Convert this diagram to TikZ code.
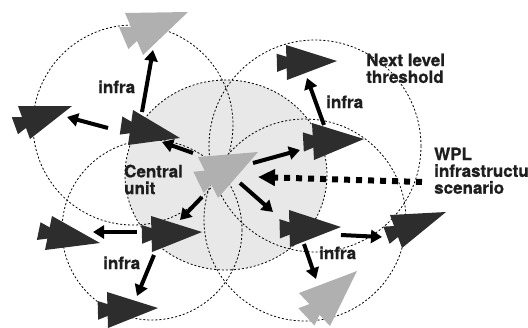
\documentclass[tikz,border=0pt]{standalone}
\usepackage{fontspec}
\newfontfamily\captionfont{texgyreheros-bold}[Extension=.otf, FakeBold=0.8]
\usetikzlibrary{calc,arrows.meta}

\definecolor{planedark}{HTML}{2D2D2D}
\definecolor{planegray}{HTML}{B0B0B0}
\definecolor{cellfill}{HTML}{E8E8E8}
\definecolor{labelink}{HTML}{1E1E1E}

% A relay symbol: a triangle with a smaller copy behind it (notched tail).
% #1 name, #2 tip, #3 and #4 back corners, #5 fill colour
\newcommand{\relay}[5]{%
  \coordinate (#1-tip) at #2;
  \coordinate (#1-a) at #3;
  \coordinate (#1-b) at #4;
  \coordinate (#1-m) at ($(#1-a)!0.5!(#1-b)$);
  \coordinate (#1-t2) at ($(#1-tip)!0.67!(#1-m)$);
  \fill[#5] (#1-tip) -- (#1-a) -- (#1-b) -- cycle;
  \fill[#5] (#1-t2) -- ($(#1-t2)+0.52*(#1-a)-0.52*(#1-tip)$)
             -- ($(#1-t2)+0.52*(#1-b)-0.52*(#1-tip)$) -- cycle;
  \coordinate (#1) at ($(#1-m)!0.4!(#1-tip)$);
}

\tikzset{
  cellrange/.style={draw=black, line width=0.8pt, dash pattern=on 2pt off 2pt},
  link/.style={draw=black, line width=4pt, -{Triangle[length=11pt,width=13pt]}},
  wpl/.style={draw=black, line width=6pt, dash pattern=on 6pt off 6pt,
    -{Triangle[length=17pt,width=16pt]}},
  caption/.style={inner sep=0pt, text=labelink, align=left,
    font=\captionfont\fontsize{17}{16.8}\selectfont},
}

\begin{document}
\begin{tikzpicture}[x=1pt,y=-1pt]
\useasboundingbox (0,0) rectangle (528,327);
\clip (0,0) rectangle (528,327);

% coverage ranges
\fill[cellfill] (226,175) ellipse [x radius=101, y radius=95];
\draw[cellrange] (226,175) ellipse [x radius=101, y radius=95];
\draw[cellrange] (133,125) circle [radius=100];
\draw[cellrange] (315,146) circle [radius=106];
\draw[cellrange] (152,230) circle [radius=90];
\draw[cellrange] (305,220) circle [radius=101];

% relays
\relay{top}{(188,12)}{(125,13)}{(143,55)}{planegray}
\relay{tlin}{(180,138)}{(133,110)}{(128,145)}{planedark}
\relay{tlout}{(72,106)}{(18,106)}{(30,139)}{planedark}
\relay{cu}{(258,152)}{(198,157)}{(218,198)}{planegray}
\relay{next}{(337,61)}{(286,45)}{(287,80)}{planedark}
\relay{trin}{(364,139)}{(312,123)}{(314,160)}{planedark}
\relay{blin}{(202,232)}{(151,216)}{(152,252)}{planedark}
\relay{blout}{(100,243)}{(52,216)}{(45,250)}{planedark}
\relay{bldown}{(158,308)}{(107,292)}{(108,328)}{planedark}
\relay{brin}{(341,227)}{(289,210)}{(290,247)}{planedark}
\relay{brout}{(446,212)}{(390,215)}{(402,248)}{planedark}
\relay{brdown}{(357,271)}{(299,293)}{(330,326)}{planegray}

% link end points
\coordinate (a1s) at (142,112); \coordinate (a1e) at (153,50);
\coordinate (a2s) at (108,128); \coordinate (a2e) at (67,117);
\coordinate (a3s) at (193,153); \coordinate (a3e) at (162,142);
\coordinate (a4s) at (253,163); \coordinate (a4e) at (300,150);
\coordinate (a5s) at (324,125); \coordinate (a5e) at (307,78);
\coordinate (a6s) at (202,197); \coordinate (a6e) at (180,220);
\coordinate (a7s) at (240,183); \coordinate (a7e) at (273,212);
\coordinate (a8s) at (137,232); \coordinate (a8e) at (93,232);
\coordinate (a9s) at (154,255); \coordinate (a9e) at (137,296);
\coordinate (a10s) at (341,235); \coordinate (a10e) at (382,237);
\coordinate (a11s) at (304,244); \coordinate (a11e) at (316,279);
\coordinate (wplstart) at (422,182); \coordinate (wplend) at (258,177);

\foreach \k in {1,...,11} \draw[link] (a\k s) -- (a\k e);
\draw[wpl] (wplstart) -- (wplend);

% labels
\node[caption, anchor=base west] (l1) at (98,93) {infra};
\node[caption, anchor=base west] (l2) at (326,108) {infra};
\node[caption, anchor=base west] (l3) at (103,269) {infra};
\node[caption, anchor=base west] (l4) at (319,259) {infra};
\node[caption, anchor=north west] (lnext) at (366,53.5) {Next level\\threshold};
\node[caption, anchor=north west] (lcu) at (124,164.5) {Central\\unit};
\node[caption, anchor=north west] (lwpl) at (434,147.5) {WPL\\infrastructure\\scenario};
\end{tikzpicture}
\end{document}
